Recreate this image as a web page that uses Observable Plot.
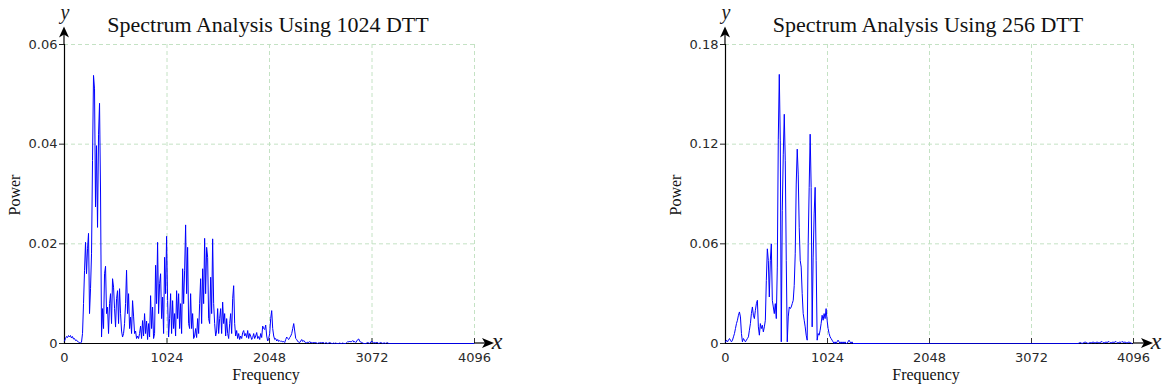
<!DOCTYPE html>
<html>
<head>
<meta charset="utf-8">
<script src="https://cdn.jsdelivr.net/npm/d3@7"></script>
<script src="https://cdn.jsdelivr.net/npm/@observablehq/plot@0.6"></script>
<style>
  html, body { margin: 0; padding: 0; background: #fff; }
  #wrap { position: relative; width: 1175px; height: 392px; overflow: hidden; }
  #wrap svg { position: absolute; top: 0; }
</style>
</head>
<body>
<div id="wrap"></div>
<script>
// ---- data ----
const freqStep = 10; // Hz between successive spectrum samples
const xTicks = [0, 1024, 2048, 3072, 4096];
const leftYTicks = [0, 0.02, 0.04, 0.06];
const rightYTicks = [0, 0.06, 0.12, 0.18];
const leftTitle = "Spectrum Analysis Using 1024 DTT";
const rightTitle = "Spectrum Analysis Using 256 DTT";
const xLabel = "Frequency";
const yLabel = "Power";

// Power spectrum, 1024-point transform (0 .. 4090 Hz)
const power1024 = [
  .0005,.001,.0014,.0012,.0016,.0013,.0016,.0011,.0014,.0009,.001,.0006,.0007,.0004,.0003,.0002,.0001,.0003,
  .002,.008,.0146,.0203,.014,.019,.0221,.006,.011,.018,.0367,.0538,.0511,.0274,.0397,.0233,.042,.0482,
  .0304,.0013,.007,.003,.014,.0155,.006,.0073,.002,.008,
  .01,.004,.013,.0113,.007,.0033,.009,.0106,.004,.011,
  .006,.0025,.0013,.002,.004,.008,.0147,.006,.01,.003,
  .0053,.002,.0086,.0055,.002,.0025,.001,.0015,.001,.002,
  .0035,.001,.0046,.0015,.006,.002,.0045,.0008,.004,.0013,
  .0096,.003,.0073,.001,.002,.0157,.008,.0203,.006,.012,
  .014,.005,.0093,.002,.0173,.01,.0215,.0086,.0013,.005,
  .01,.002,.0086,.003,.006,.0015,.0106,.005,.01,.003,
  .008,.002,.015,.008,.0147,.0238,.01,.0193,.004,.003,
  .01,.003,.006,.001,.0015,.003,.0012,.005,.002,.008,
  .013,.004,.015,.008,.0211,.01,.0193,.0173,.005,.004,
  .0133,.006,.021,.008,.004,.0015,.0025,.007,.002,.005,
  .007,.002,.0083,.004,.006,.0015,.005,.002,.001,.004,
  .006,.002,.009,.0116,.004,.0015,.0026,.001,.002,.0008,
  .0015,.001,.0022,.0026,.0015,.002,.0012,.0026,.001,.002,
  .0015,.0008,.0012,.002,.001,.0015,.0022,.001,.0014,.0008,
  .002,.0012,.0035,.003,.0028,.0037,.0015,.0005,.001,.002,
  .005,.0066,.003,.0015,.0008,.001,.0005,.0008,.0004,.0006,
  .0004,.0005,.0003,.0004,.0002,.0008,.0013,.001,.0008,.0012,
  .0015,.002,.003,.004,.0025,.001,.0008,.0004,.0003,.0002,
  .0005,.0008,.0004,.0006,.0003,.0002,.0001,.0003,.0002,.0004,
  .0001,.0002,.0001,.0003,.0001,.0002,.0001,0,.0002,.0001,
  .0002,.0001,.0003,.0001,0,.0002,.0001,0,.0001,.0002,
  .0001,0,0,.0001,0,.0001,0,0,0,.0001,
  0,0,.0001,0,0,0,.0002,.0004,.0003,.0005,
  .0003,.0004,.0006,.0003,.0004,.0002,.0005,.0008,.0009,.0004,
  .0003,.0002,.0001,0,0,0,.0001,.0002,.0001,0,
  .0003,.0005,.0002,.0001,.0002,.0001,.0003,.0001,0,.0001,
  .0002,.0001,0,.0001,.0001,0,.0002,.0001,0,0,
  0,0,0,0,0,0,0,0,0,0,0,0,
  0,0,0,0,0,0,0,0,0,0,0,0,
  0,0,0,0,0,0,0,0,0,0,0,0,
  0,0,0,0,0,0,0,0,0,0,0,0,
  0,0,0,0,0,0,0,0,0,0,0,0,
  0,0,0,0,0,0,0,0,0,0,0,0,
  0,0,0,0,0,0,0,0,0,0,0,0
];

// Power spectrum, 256-point transform (0 .. 4080 Hz)
const power256 = [
  .001,.002,.001,.002,.003,.002,.001,.002,.004,.006,
  .009,.012,.014,.017,.019,.016,.006,.001,.003,.002,
  .001,.002,.003,.004,.008,.012,.018,.022,.017,.015,
  .020,.024,.026,.010,.005,.012,.009,.011,.007,.010,
  .014,.038,.057,.050,.028,.050,.060,.026,.022,.018,
  .024,.015,.046,.123,.162,.122,.001,.080,.114,.138,
  .110,.050,.001,.016,.022,.021,.022,.024,.026,.035,
  .054,.096,.117,.102,.070,.050,.046,.030,.018,.014,
  .010,.005,.002,.060,.094,.126,.094,.010,.052,.078,
  .094,.050,.002,.006,.005,.008,.012,.017,.014,.018,
  .015,.021,.014,.009,.006,.004,.003,.002,.001,0,
  .001,0,.001,.002,.001,0,.001,0,.001,0,
  .001,0,0,.001,.002,.001,0,.001,0,0,
  0,0,0,0,0,0,0,0,0,0, 0,0,0,0,0,0,0,0,0,0,
  0,0,0,0,0,0,0,0,0,0, 0,0,0,0,0,0,0,0,0,0,
  0,0,0,0,0,0,0,0,0,0, 0,0,0,0,0,0,0,0,0,0,
  0,0,0,0,0,0,0,0,0,0, 0,0,0,0,0,0,0,0,0,0,
  0,0,0,0,0,0,0,0,0,0, 0,0,0,0,0,0,0,0,0,0,
  0,0,0,0,0,0,0,0,0,0, 0,0,0,0,0,0,0,0,0,0,
  0,0,0,0,0,0,0,0,0,0, 0,0,0,0,0,0,0,0,0,0,
  0,0,0,0,0,0,0,0,0,0, 0,0,0,0,0,0,0,0,0,0,
  0,0,0,0,0,0,0,0,0,0, 0,0,0,0,0,0,0,0,0,0,
  0,0,0,0,0,0,0,0,0,0, 0,0,0,0,0,0,0,0,0,0,
  0,0,0,0,0,0,0,0,0,0, 0,0,0,0,0,0,0,0,0,0,
  0,0,0,0,0,.0003,.0006,.0003,0,.0003,
  .0006,.0009,.0006,.0003,0,.0003,.0006,.0003,.0006,.0009,
  .0006,.0003,.0006,.0009,.0006,.0003,.0006,.0009,.0012,.0006,
  .0003,.0006,.0009,.0006,.0009,.0012,.0006,.0003,.0006,.0009,
  .0006,.0009,.0012,.0006,.0003,.0006,.0009,.0006,.0012,.0009,
  .0006,.0009,.0006,.0003,.0006,.0009,.0006,.0003,0
];

// ---- drawing ----
const H = 392, MT = 44, MB = 49;
const gridColor = "#c4e2c4";

function makeChart({power, yTicks, title, width, marginLeft, marginRight, left}) {
  const data = power.map((p, i) => ({f: i * freqStep, p}));
  const plotH = H - MT - MB;
  const svg = Plot.plot({
    width, height: H,
    marginTop: MT, marginBottom: MB, marginLeft, marginRight,
    style: {fontFamily: "'DejaVu Sans', sans-serif", fontSize: "13px", color: "#2a2a2a", background: "transparent", overflow: "visible"},
    x: {domain: [xTicks[0], xTicks[xTicks.length - 1]]},
    y: {domain: [yTicks[0], yTicks[yTicks.length - 1]]},
    marks: [
      Plot.gridX({ticks: xTicks.slice(1), stroke: gridColor, strokeOpacity: 1, strokeDasharray: "4,3"}),
      Plot.gridY({ticks: yTicks.slice(1), stroke: gridColor, strokeOpacity: 1, strokeDasharray: "4,3"}),
      Plot.axisY({ticks: yTicks, tickSize: 5, tickPadding: 2, tickFormat: d => String(d), label: null, stroke: "#222"}),
      Plot.axisX({ticks: xTicks, tickSize: 0, tickPadding: 9, tickFormat: d => String(d), label: null}),
      Plot.tickX(xTicks.slice(1), {x: d => d, insetTop: plotH - 5, stroke: "#333"}),
      Plot.ruleY([0], {stroke: "black", strokeWidth: 1.2}),
      Plot.ruleX([0], {stroke: "black", strokeWidth: 1.2}),
      Plot.line(data, {x: "f", y: "p", stroke: "#0000ff", strokeWidth: 1})
    ]
  });
  svg.style.left = left + "px";
  const s = d3.select(svg);
  const x0 = marginLeft, xR = width - marginRight, y0 = H - MB, yT = MT;
  const cx = (x0 + xR) / 2;
  const g = s.append("g");
  // axis extensions with arrowheads
  g.append("line").attr("x1", x0).attr("x2", x0).attr("y1", yT).attr("y2", 32)
    .attr("stroke", "black").attr("stroke-width", 1.2);
  g.append("path").attr("d", `M${x0},26.5L${x0 - 5},37.5L${x0},34.5L${x0 + 5},37.5Z`).attr("fill", "black");
  g.append("line").attr("x1", xR).attr("x2", xR + 12).attr("y1", y0).attr("y2", y0)
    .attr("stroke", "black").attr("stroke-width", 1.2);
  g.append("path").attr("d", `M${xR + 20},${y0}L${xR + 8},${y0 - 5}L${xR + 11},${y0}L${xR + 8},${y0 + 5}Z`).attr("fill", "black");
  // axis letters
  g.append("text").text("y").attr("x", x0 + 1).attr("y", 18.5).attr("text-anchor", "middle")
    .attr("font-family", "'Liberation Serif', serif").attr("font-style", "italic").attr("font-size", 20).attr("fill", "#1a1a1a");
  g.append("text").text("x").attr("x", xR + 23).attr("y", y0 + 6)
    .attr("font-family", "'Liberation Serif', serif").attr("font-style", "italic").attr("font-size", 24).attr("fill", "#1a1a1a");
  // title
  g.append("text").text(title).attr("x", cx - 1).attr("y", 31.5).attr("text-anchor", "middle")
    .attr("font-family", "'Liberation Serif', serif").attr("font-size", 22).attr("fill", "#111");
  // axis labels
  g.append("text").text(xLabel).attr("x", cx - 3).attr("y", 380).attr("text-anchor", "middle")
    .attr("font-family", "'Liberation Serif', serif").attr("font-size", 16).attr("fill", "#111");
  g.append("text").text(yLabel).attr("transform", `translate(${x0 - 44},195) rotate(-90)`).attr("text-anchor", "middle")
    .attr("font-family", "'Liberation Serif', serif").attr("font-size", 16).attr("fill", "#111");
  return svg;
}

const wrap = document.getElementById("wrap");
wrap.appendChild(makeChart({power: power1024, yTicks: leftYTicks, title: leftTitle, width: 520, marginLeft: 64, marginRight: 46, left: 0}));
wrap.appendChild(makeChart({power: power256, yTicks: rightYTicks, title: rightTitle, width: 515, marginLeft: 65, marginRight: 42, left: 660}));
</script>
</body>
</html>
